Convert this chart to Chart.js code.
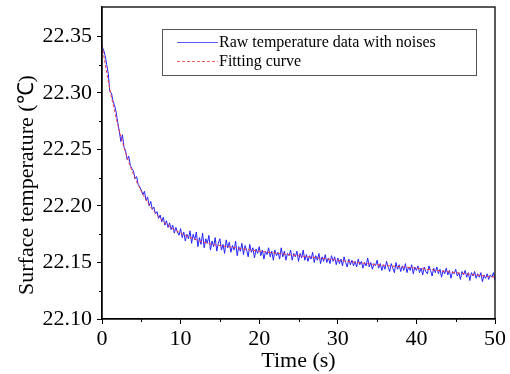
<!DOCTYPE html>
<html><head><meta charset="utf-8">
<script src="https://cdn.jsdelivr.net/npm/chart.js@4.4.0/dist/chart.umd.min.js"></script>
<style>html,body{margin:0;padding:0;background:#fff}canvas{display:block}</style>
</head><body>
<canvas id="c" width="510" height="374"></canvas>
<script>
// ---- data ----
const rawStart = 0;      // s
const rawStep = 0.2;     // s, sampling interval of the raw record
const rawTemps = [
22.341,22.338,22.333,22.325,22.317, 22.301,22.300,22.293,22.289,22.283,
22.274,22.266,22.257,22.263,22.252, 22.249,22.241,22.244,22.236,22.233,
22.231,22.224,22.226,22.219,22.217, 22.214,22.210,22.213,22.205,22.208,
22.200,22.204,22.197,22.199,22.193, 22.195,22.189,22.192,22.186,22.190,
22.183,22.187,22.181,22.185,22.179, 22.183,22.176,22.181,22.177,22.174,
22.180,22.172,22.177,22.169,22.175, 22.171,22.178,22.167,22.175,22.170,
22.177,22.164,22.172,22.166,22.176, 22.163,22.171,22.167,22.174,22.161,
22.169,22.164,22.172,22.160,22.167, 22.171,22.161,22.166,22.158,22.170,
22.163,22.168,22.159,22.165,22.161, 22.169,22.156,22.164,22.160,22.167,
22.157,22.165,22.161,22.155,22.166, 22.159,22.163,22.154,22.162,22.158,
22.164,22.156,22.161,22.153,22.160, 22.157,22.163,22.155,22.160,22.152,
22.161,22.156,22.159,22.153,22.163, 22.155,22.160,22.152,22.158,22.156,
22.161,22.152,22.158,22.155,22.160, 22.151,22.158,22.154,22.161,22.152,
22.157,22.151,22.156,22.153,22.159, 22.150,22.156,22.152,22.158,22.149,
22.155,22.151,22.157,22.150,22.154, 22.149,22.156,22.151,22.155,22.148,
22.154,22.149,22.153,22.147,22.155, 22.150,22.146,22.153,22.148,22.152,
22.147,22.151,22.146,22.153,22.148, 22.151,22.145,22.150,22.147,22.154,
22.146,22.150,22.144,22.149,22.147, 22.152,22.145,22.149,22.143,22.148,
22.144,22.151,22.146,22.142,22.149, 22.145,22.141,22.150,22.144,22.148,
22.142,22.147,22.143,22.149,22.141, 22.146,22.143,22.148,22.140,22.146,
22.143,22.147,22.141,22.145,22.139, 22.146,22.142,22.140,22.147,22.143,
22.138,22.145,22.141,22.146,22.140, 22.144,22.137,22.143,22.140,22.145,
22.139,22.143,22.136,22.142,22.140, 22.144,22.138,22.141,22.135,22.142,
22.139,22.143,22.137,22.141,22.134, 22.141,22.138,22.142,22.136,22.140,
22.137,22.141,22.133,22.139,22.136, 22.140,22.135,22.139,22.137,22.141,
22.134
];
const fitTimes = [0,0.5,1,1.5,2,2.5,3,3.5,4,5,6,7,8,9,10,12,14,16,18,20,25,30,35,40,45,50];
const fitTemps = [22.342,22.322,22.303,22.287,22.272,22.259,22.247,22.237,22.228,22.213,22.201,22.192,22.185,22.180,22.176,22.170,22.166,22.164,22.162,22.160,22.156,22.152,22.148,22.145,22.141,22.137];
const yTickValues = [22.10,22.15,22.20,22.25,22.30,22.35];
const yMinorValues = [22.125,22.175,22.225,22.275,22.325];
const xTickValues = [0,10,20,30,40,50];
const xMinorValues = [5,15,25,35,45];
const seriesLabels = ['Raw temperature data with noises','Fitting curve'];
const xTitle = 'Time (s)';
const yTitle = 'Surface temperature (\u2103)';

const rawPoints = rawTemps.map((v,i)=>({x: rawStart + i*rawStep, y: v}));
const fitPoints = fitTimes.map((t,i)=>({x: t, y: fitTemps[i]}));

const FONT = '"Liberation Serif","Times New Roman",serif';
const BLUE = '#2323ff';
const RED = '#ff3a3a';

const framePlugin = {
  id: 'frame',
  afterDraw(chart){
    const {ctx, chartArea:a, scales} = chart;
    ctx.save();
    ctx.strokeStyle = '#000';
    ctx.lineWidth = 1.3;
    ctx.strokeRect(a.left, a.top, a.right-a.left, a.bottom-a.top);
    // minor ticks
    ctx.lineWidth = 1;
    ctx.beginPath();
    yMinorValues.forEach(v=>{
      const y = Math.round(scales.y.getPixelForValue(v))+0.5;
      ctx.moveTo(a.left-3, y); ctx.lineTo(a.left, y);
    });
    xMinorValues.forEach(v=>{
      const x = Math.round(scales.x.getPixelForValue(v))+0.5;
      ctx.moveTo(x, a.bottom); ctx.lineTo(x, a.bottom+3);
    });
    ctx.stroke();
    // y axis title
    ctx.save();
    ctx.translate(27, 185);
    ctx.rotate(-Math.PI/2);
    ctx.font = '22px '+FONT;
    ctx.textAlign = 'center';
    ctx.textBaseline = 'middle';
    ctx.fillStyle = '#000';
    ctx.fillText(yTitle, 0, 0);
    ctx.restore();
    // legend
    const bx=162, by=29, bw=314, bh=46;
    ctx.fillStyle='#fff';
    ctx.fillRect(bx,by,bw,bh);
    ctx.strokeStyle='#555';
    ctx.lineWidth=1;
    ctx.strokeRect(bx+0.5,by+0.5,bw,bh);
    ctx.font = '16px '+FONT;
    ctx.textBaseline='middle';
    const styles = [{c:'#5a5aff', d:[]},{c:'#ff6060', d:[3,2]}];
    const rows = [43,62];
    seriesLabels.forEach((lab,i)=>{
      ctx.strokeStyle = styles[i].c;
      ctx.lineWidth = 1.2;
      ctx.setLineDash(styles[i].d);
      ctx.beginPath();
      ctx.moveTo(177, rows[i]-0.5); ctx.lineTo(218, rows[i]-0.5);
      ctx.stroke();
      ctx.setLineDash([]);
      ctx.fillStyle='#000';
      ctx.fillText(lab, 219, rows[i]);
    });
    ctx.restore();
  }
};

new Chart(document.getElementById('c'), {
  type: 'line',
  data: {
    datasets: [
      {label: seriesLabels[0], data: rawPoints, borderColor: BLUE, borderWidth: 1, pointRadius: 0, tension: 0, order: 1},
      {label: seriesLabels[1], data: fitPoints, borderColor: RED, borderWidth: 1, borderDash: [3,2], pointRadius: 0, cubicInterpolationMode: 'monotone', order: 0}
    ]
  },
  options: {
    responsive: false,
    animation: false,
    devicePixelRatio: 1,
    layout: {padding: {top: 7, right: 15, left: 0, bottom: 0}},
    plugins: {legend: {display: false}, tooltip: {enabled: false}},
    scales: {
      x: {
        type: 'linear', min: 0, max: 50,
        afterBuildTicks: s => { s.ticks = xTickValues.map(v=>({value:v})); },
        afterFit: s => { s.height = 55; s.paddingLeft = 0; s.paddingRight = 0; },
        grid: {drawOnChartArea: false, tickLength: 5, color: '#000', tickColor: '#000'},
        border: {display: true, color: '#000', width: 1.3},
        ticks: {color: '#000', font: {family: FONT, size: 22}, padding: 2, maxRotation: 0, callback: v => String(v)},
        title: {display: true, text: xTitle, color: '#000', font: {family: FONT, size: 22, lineHeight: 1.2}, padding: {top: 0, bottom: 0}}
      },
      y: {
        type: 'linear', min: 22.10, max: 22.376,
        afterBuildTicks: s => { s.ticks = yTickValues.map(v=>({value:v})); },
        afterFit: s => { s.width = 102; s.paddingTop = 0; s.paddingBottom = 0; },
        grid: {drawOnChartArea: false, tickLength: 5, color: '#000', tickColor: '#000'},
        border: {display: true, color: '#000', width: 1.3},
        ticks: {color: '#000', font: {family: FONT, size: 22}, padding: 5, callback: v => Number(v).toFixed(2)},
        title: {display: false}
      }
    }
  },
  plugins: [framePlugin]
});
</script>
</body></html>
